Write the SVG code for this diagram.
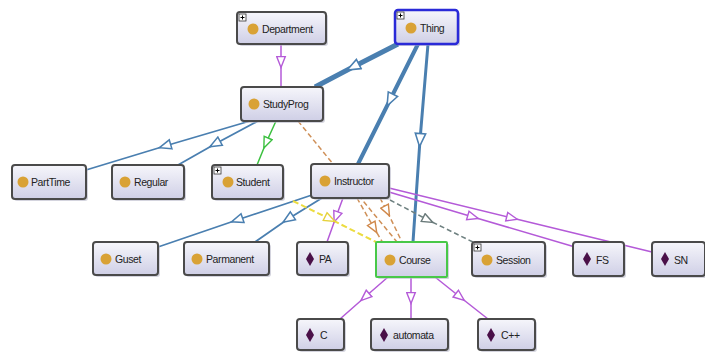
<svg xmlns="http://www.w3.org/2000/svg" width="705" height="352" viewBox="0 0 705 352">
<defs>
<linearGradient id="g" x1="0" y1="0" x2="0" y2="1">
<stop offset="0" stop-color="#f6f6fb"/>
<stop offset="1" stop-color="#cfcfe6"/>
</linearGradient>
<marker id="aB" markerUnits="userSpaceOnUse" markerWidth="14" markerHeight="12" refX="6" refY="5" orient="auto" viewBox="0 0 12 10"><path d="M1,1 L11,5 L1,9 Z" fill="#fff" stroke="#4a7fb0" stroke-width="1.3"/></marker>
<marker id="aBL" markerUnits="userSpaceOnUse" markerWidth="16" markerHeight="13" refX="6" refY="5" orient="auto" viewBox="0 0 12 10"><path d="M1,1 L11,5 L1,9 Z" fill="#fff" stroke="#4a7fb0" stroke-width="1.2"/></marker>
<marker id="aP" markerUnits="userSpaceOnUse" markerWidth="13" markerHeight="11" refX="6" refY="5" orient="auto" viewBox="0 0 12 10"><path d="M1,1 L11,5 L1,9 Z" fill="#fff" stroke="#b45ad8" stroke-width="1.3"/></marker>
<marker id="aG" markerUnits="userSpaceOnUse" markerWidth="13" markerHeight="11" refX="6" refY="5" orient="auto" viewBox="0 0 12 10"><path d="M1,1 L11,5 L1,9 Z" fill="#fff" stroke="#3cc040" stroke-width="1.3"/></marker>
<marker id="aO" markerUnits="userSpaceOnUse" markerWidth="13" markerHeight="11" refX="6" refY="5" orient="auto" viewBox="0 0 12 10"><path d="M1,1 L11,5 L1,9 Z" fill="#fff" stroke="#d0884a" stroke-width="1.3"/></marker>
<marker id="aY" markerUnits="userSpaceOnUse" markerWidth="13" markerHeight="11" refX="6" refY="5" orient="auto" viewBox="0 0 12 10"><path d="M1,1 L11,5 L1,9 Z" fill="#fff" stroke="#e6d23c" stroke-width="1.3"/></marker>
<marker id="aK" markerUnits="userSpaceOnUse" markerWidth="13" markerHeight="11" refX="6" refY="5" orient="auto" viewBox="0 0 12 10"><path d="M1,1 L11,5 L1,9 Z" fill="#fff" stroke="#6a7a7a" stroke-width="1.3"/></marker>
</defs>
<style>
.n rect.b{fill:url(#g);stroke:#4a4a4a;stroke-width:2}
.n rect.s{fill:#b8b8c8;opacity:.6}
.n text{font-family:"Liberation Sans",Arial,sans-serif;font-size:10.5px;fill:#222;letter-spacing:-0.4px}
.ci{fill:#d9a235}
.di{fill:#4a1048}
.pl rect{fill:#fff;stroke:#333;stroke-width:.8}
.pl line{stroke:#000;stroke-width:1}
.e{fill:none}
.bl{stroke:#4a7fb0;marker-mid:url(#aB)}
.pu{stroke:#b45ad8;stroke-width:1.5;marker-mid:url(#aP)}
.gr{stroke:#3cc040;stroke-width:1.5;marker-mid:url(#aG)}
.or{stroke:#cf9058;stroke-width:1.5;stroke-dasharray:5 3;marker-mid:url(#aO)}
.ye{stroke:#ecdc40;stroke-width:2;stroke-dasharray:6 3;marker-mid:url(#aY)}
.gy{stroke:#6e8080;stroke-width:1.5;stroke-dasharray:5 3;marker-mid:url(#aK)}
</style>
<rect width="705" height="352" fill="#fff"/>
<g id="connectors" class="e">
<path class="bl" d="M398,44 L353,67 L315,87" stroke-width="5" style="marker-mid:url(#aBL)"/>
<path class="bl" d="M418,44 L390,100 L358,164" stroke-width="4" style="marker-mid:url(#aBL)"/>
<path class="bl" d="M428,44 L420,140 L413,242" stroke-width="3" style="marker-mid:url(#aBL)"/>
<path class="bl" d="M250,121 L165,146 L86,170" stroke-width="1.8"/>
<path class="bl" d="M258,121 L215,144 L178,165" stroke-width="1.8"/>
<path class="bl" d="M312,195 L237,220 L158,247" stroke-width="1.8"/>
<path class="bl" d="M322,198 L288,219 L255,242" stroke-width="1.8"/>
<path class="gr" d="M276,121 L266,143 L257,165"/>
<path class="pu" d="M281,44 L281,62 L281,87"/>
<path class="pu" d="M343,198 L336,217 L327,242"/>
<path class="pu" d="M389,192 L473,217 L575,247"/>
<path class="pu" d="M389,188 L512,218 L652,252"/>
<path class="pu" d="M388,277 L365,297 L340,319"/>
<path class="pu" d="M411,277 L411,298 L411,319"/>
<path class="pu" d="M435,277 L460,297 L488,319"/>
<path class="gy" d="M390,200 L428,220 L477,244"/>
<path class="ye" d="M293,201 L330,219 L376,242"/>
<path class="or" d="M298,121 L364,202 L397,242" style="marker-mid:none"/>
<path class="or" d="M357,198 L374,228 L383,243"/>
<path class="or" d="M380,198 L387,211 L402,242"/>
</g>
<g id="Department" class="n"><rect class="s" x="239" y="14" width="89" height="32" rx="3"/><rect class="b" x="237" y="12" width="89" height="32" rx="3"/><g class="pl"><rect x="239" y="14" width="7" height="7"/><line x1="240.5" y1="17.5" x2="244.5" y2="17.5"/><line x1="242.5" y1="15.5" x2="242.5" y2="19.5"/></g><circle class="ci" cx="253" cy="29" r="5.5"/><text x="262" y="32.5">Department</text></g>
<g id="Thing" class="n"><rect class="s" x="397" y="12" width="63" height="34" rx="3"/><rect class="b" x="395" y="10" width="63" height="34" rx="3" style="stroke:#2a2ad8;stroke-width:2.5"/><g class="pl"><rect x="397" y="12" width="7" height="7"/><line x1="398.5" y1="15.5" x2="402.5" y2="15.5"/><line x1="400.5" y1="13.5" x2="400.5" y2="17.5"/></g><circle class="ci" cx="411" cy="28" r="5.5"/><text x="420" y="31.5">Thing</text></g>
<g id="StudyProg" class="n"><rect class="s" x="243" y="89" width="82" height="34" rx="3"/><rect class="b" x="241" y="87" width="82" height="34" rx="3"/><circle class="ci" cx="254" cy="104" r="5.5"/><text x="263" y="107.5">StudyProg</text></g>
<g id="PartTime" class="n"><rect class="s" x="14" y="167" width="74" height="34" rx="3"/><rect class="b" x="12" y="165" width="74" height="34" rx="3"/><circle class="ci" cx="23" cy="182" r="5.5"/><text x="31" y="185.5">PartTime</text></g>
<g id="Regular" class="n"><rect class="s" x="114" y="167" width="72" height="34" rx="3"/><rect class="b" x="112" y="165" width="72" height="34" rx="3"/><circle class="ci" cx="125" cy="182" r="5.5"/><text x="134" y="185.5">Regular</text></g>
<g id="Student" class="n"><rect class="s" x="214" y="167" width="71" height="34" rx="3"/><rect class="b" x="212" y="165" width="71" height="34" rx="3"/><g class="pl"><rect x="214" y="167" width="7" height="7"/><line x1="215.5" y1="170.5" x2="219.5" y2="170.5"/><line x1="217.5" y1="168.5" x2="217.5" y2="172.5"/></g><circle class="ci" cx="228" cy="182" r="5.5"/><text x="236" y="185.5">Student</text></g>
<g id="Instructor" class="n"><rect class="s" x="313" y="166" width="78" height="34" rx="3"/><rect class="b" x="311" y="164" width="78" height="34" rx="3"/><circle class="ci" cx="325" cy="181" r="5.5"/><text x="334" y="184.5">Instructor</text></g>
<g id="Guset" class="n"><rect class="s" x="95" y="244" width="65" height="33" rx="3"/><rect class="b" x="93" y="242" width="65" height="33" rx="3"/><circle class="ci" cx="106" cy="259" r="5.5"/><text x="115" y="262.5">Guset</text></g>
<g id="Parmanent" class="n"><rect class="s" x="186" y="244" width="85" height="33" rx="3"/><rect class="b" x="184" y="242" width="85" height="33" rx="3"/><circle class="ci" cx="197" cy="259" r="5.5"/><text x="206" y="262.5">Parmanent</text></g>
<g id="PA" class="n"><rect class="s" x="299" y="244" width="51" height="33" rx="3"/><rect class="b" x="297" y="242" width="51" height="33" rx="3"/><path class="di" d="M310,252 L314,259 L310,266 L306,259 Z"/><text x="319" y="262.5">PA</text></g>
<g id="Course" class="n"><rect class="s" x="378" y="244" width="71" height="35" rx="1"/><rect class="b" x="376" y="242" width="71" height="35" rx="1" style="stroke:#48c848"/><circle class="ci" cx="390" cy="260" r="5.5"/><text x="399" y="263.5">Course</text></g>
<g id="Session" class="n"><rect class="s" x="474" y="244" width="73" height="34" rx="3"/><rect class="b" x="472" y="242" width="73" height="34" rx="3"/><g class="pl"><rect x="474" y="244" width="7" height="7"/><line x1="475.5" y1="247.5" x2="479.5" y2="247.5"/><line x1="477.5" y1="245.5" x2="477.5" y2="249.5"/></g><circle class="ci" cx="487" cy="260" r="5.5"/><text x="496" y="263.5">Session</text></g>
<g id="FS" class="n"><rect class="s" x="575" y="244" width="51" height="34" rx="3"/><rect class="b" x="573" y="242" width="51" height="34" rx="3"/><path class="di" d="M587,252 L591,259 L587,266 L583,259 Z"/><text x="596" y="263.5">FS</text></g>
<g id="SN" class="n"><rect class="s" x="654" y="244" width="53" height="34" rx="3"/><rect class="b" x="652" y="242" width="53" height="34" rx="3"/><path class="di" d="M665,252 L669,259 L665,266 L661,259 Z"/><text x="674" y="263.5">SN</text></g>
<g id="C" class="n"><rect class="s" x="299" y="321" width="47" height="31" rx="3"/><rect class="b" x="297" y="319" width="47" height="31" rx="3"/><path class="di" d="M310,328 L314,335 L310,342 L306,335 Z"/><text x="320" y="338.5">C</text></g>
<g id="automata" class="n"><rect class="s" x="373" y="321" width="77" height="31" rx="3"/><rect class="b" x="371" y="319" width="77" height="31" rx="3"/><path class="di" d="M384,328 L388,335 L384,342 L380,335 Z"/><text x="393" y="338.5">automata</text></g>
<g id="Cpp" class="n"><rect class="s" x="480" y="321" width="57" height="31" rx="3"/><rect class="b" x="478" y="319" width="57" height="31" rx="3"/><path class="di" d="M491,328 L495,335 L491,342 L487,335 Z"/><text x="501" y="338.5">C++</text></g>
</svg>
